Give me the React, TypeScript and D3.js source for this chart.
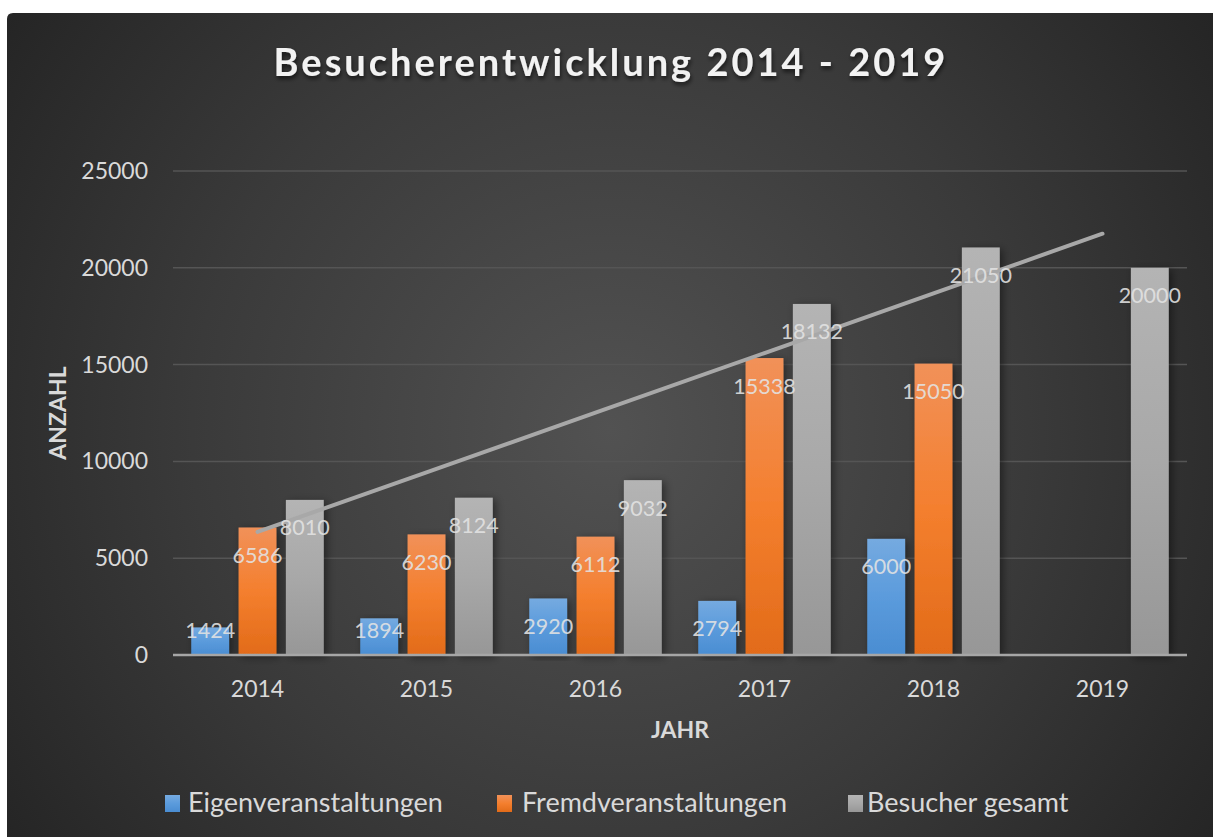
import React from 'react';
import * as d3 from 'd3';

const years = ['2014', '2015', '2016', '2017', '2018', '2019'];
const eigen: (number | null)[] = [1424, 1894, 2920, 2794, 6000, null];
const fremd: (number | null)[] = [6586, 6230, 6112, 15338, 15050, null];
const gesamt: (number | null)[] = [8010, 8124, 9032, 18132, 21050, 20000];
const seriesNames = ['Eigenveranstaltungen', 'Fremdveranstaltungen', 'Besucher gesamt'];
const yTicks = [0, 5000, 10000, 15000, 20000, 25000];
const title = 'Besucherentwicklung 2014 - 2019';

const W = 1213;
const H = 837;
const FONT = 'Lato, "Open Sans", sans-serif';

const grads = [
  { id: 'gBlue', stops: ['#75aae0', '#5b9bdc', '#4a8dd2'] },
  { id: 'gOrange', stops: ['#f19159', '#f47f2e', '#e26b19'] },
  { id: 'gGray', stops: ['#b4b4b4', '#a8a8a8', '#979797'] },
];

export default function App() {
  const series = [eigen, fremd, gesamt];
  const y = d3.scaleLinear().domain([0, 25000]).range([655, 171]);
  const x0 = d3.scaleBand<string>().domain(years).range([173, 1187]).paddingInner(0.216).paddingOuter(0.108);
  const x1 = d3.scaleBand<string>().domain(seriesNames).range([0, x0.bandwidth()]).paddingInner(0.2);
  const xc = d3.scalePoint<string>().domain(years).range([173, 1187]).padding(0.5);

  // linear trend of total visitors
  const pts = gesamt.map((v, i) => [i + 1, v as number]);
  const mx = d3.mean(pts, (p) => p[0]) as number;
  const my = d3.mean(pts, (p) => p[1]) as number;
  const sxy = d3.sum(pts, (p) => (p[0] - mx) * (p[1] - my));
  const sxx = d3.sum(pts, (p) => (p[0] - mx) ** 2);
  const slope = sxy / sxx;
  const icpt = my - slope * mx;
  const trend = years.map((yr, i) => [xc(yr) as number, y(icpt + slope * (i + 1))] as [number, number]);
  const trendPath = d3.line()(trend) as string;

  const y0 = y(0);

  return (
    <svg width={W} height={H} style={{ position: 'absolute', left: 0, top: 0 }}>
      <defs>
        <radialGradient id="bg" gradientUnits="userSpaceOnUse" cx={610} cy={430} r={760}>
          <stop offset="0" stopColor="#525252" />
          <stop offset="0.55" stopColor="#3a3a3a" />
          <stop offset="1" stopColor="#232323" />
        </radialGradient>
        {grads.map((g) => (
          <linearGradient key={g.id} id={g.id} x1="0" y1="0" x2="0" y2="1">
            <stop offset="0" stopColor={g.stops[0]} />
            <stop offset="0.5" stopColor={g.stops[1]} />
            <stop offset="1" stopColor={g.stops[2]} />
          </linearGradient>
        ))}
        <filter id="shadow" x="-30%" y="-10%" width="160%" height="120%">
          <feDropShadow dx="3" dy="2" stdDeviation="4" floodColor="#000" floodOpacity="0.45" />
        </filter>
        <filter id="tshadow" x="-5%" y="-30%" width="110%" height="160%">
          <feDropShadow dx="1" dy="3" stdDeviation="2" floodColor="#000" floodOpacity="0.6" />
        </filter>
      </defs>
      <rect x={0} y={0} width={W} height={H} fill="#ffffff" />
      <path d={`M7,${13 + 6} Q7,13 ${7 + 6},13 L${W},13 L${W},${H} L7,${H} Z`} fill="url(#bg)" />

      <text
        x={611}
        y={76}
        textAnchor="middle"
        fill="#f2f2f2"
        fontFamily={FONT}
        fontWeight={700}
        fontSize={38}
        letterSpacing={3}
        filter="url(#tshadow)"
      >
        {title}
      </text>

      {yTicks.map((t) => (
        <g key={t}>
          {t !== 0 && <line x1={173} x2={1187} y1={y(t)} y2={y(t)} stroke="#555555" strokeWidth={1.5} />}
          <text x={148} y={y(t)} dy="0.35em" textAnchor="end" fill="#d9d9d9" fontFamily={FONT} fontSize={23}>
            {t}
          </text>
        </g>
      ))}

      {years.map((yr, i) => (
        <g key={yr}>
          {series.map((s, k) => {
            const v = s[i];
            if (v == null) return null;
            const bx = (x0(yr) as number) + (x1(seriesNames[k]) as number);
            return (
              <rect
                key={k}
                x={bx}
                y={y(v)}
                width={x1.bandwidth()}
                height={y0 - y(v)}
                fill={`url(#${grads[k].id})`}
                filter="url(#shadow)"
              />
            );
          })}
        </g>
      ))}

      <line x1={173} x2={1187} y1={y0} y2={y0} stroke="#a6a6a6" strokeWidth={2.5} />

      <path d={trendPath} fill="none" stroke="#a8a8a8" strokeWidth={4} strokeLinecap="round" />

      {years.map((yr, i) => (
        <g key={'l' + yr}>
          {series.map((s, k) => {
            const v = s[i];
            if (v == null) return null;
            const cx = (x0(yr) as number) + (x1(seriesNames[k]) as number) + x1.bandwidth() / 2;
            const ly = Math.min(y(v) + 28, y0 - 25);
            return (
              <text
                key={k}
                x={cx}
                y={ly}
                dy="0.35em"
                textAnchor="middle"
                fill="#e3e3e3"
                fillOpacity={0.9}
                fontFamily={FONT}
                fontSize={21.5}
              >
                {v}
              </text>
            );
          })}
          <text x={xc(yr)} y={689} dy="0.35em" textAnchor="middle" fill="#d9d9d9" fontFamily={FONT} fontSize={23}>
            {yr}
          </text>
        </g>
      ))}

      <text
        transform={`translate(58,413) rotate(-90)`}
        dy="0.35em"
        textAnchor="middle"
        fill="#d9d9d9"
        fontFamily={FONT}
        fontWeight={700}
        fontSize={23}
      >
        ANZAHL
      </text>
      <text x={680} y={730} dy="0.35em" textAnchor="middle" fill="#d9d9d9" fontFamily={FONT} fontWeight={700} fontSize={23}>
        JAHR
      </text>

      {seriesNames.map((n, k) => {
        const lx = [165, 497, 848][k];
        const tx = [188, 522, 867][k];
        return (
          <g key={n}>
            <rect x={lx} y={795} width={15} height={17} fill={`url(#${grads[k].id})`} />
            <text x={tx} y={803} dy="0.35em" fill="#d9d9d9" fontFamily={FONT} fontSize={27}>
              {n}
            </text>
          </g>
        );
      })}
    </svg>
  );
}
